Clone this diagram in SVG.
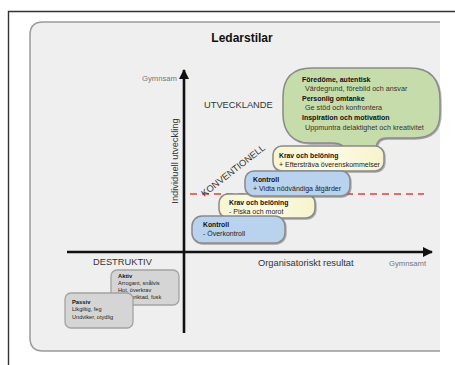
<svg xmlns="http://www.w3.org/2000/svg" width="455" height="365" viewBox="0 0 455 365">
<style>
text{font-family:"Liberation Sans",Arial,sans-serif;}
.t{font-size:7px;fill:#222;}
.tb{font-size:6.8px;font-weight:bold;fill:#111;}
.g{font-size:7.2px;fill:#333;}
.gb{font-size:7px;font-weight:bold;fill:#111;}
.s{font-size:5.6px;fill:#222;}
.sb{font-size:5.8px;font-weight:bold;fill:#111;}
.lab{font-size:9.3px;fill:#333;}
.gy{font-size:7.7px;fill:#777;}
.box{stroke:#8a8a8a;stroke-width:1.5;filter:url(#sh);}
.yel{fill:url(#yg);}
.blu{fill:#b9d2ee;}
.gra{fill:#d5d5d5;stroke:#a3a3a3;stroke-width:1.3;}
.axis{stroke:#111;stroke-width:2.6;fill:none;}
</style>
<defs>
<filter id="sh" x="-10%" y="-10%" width="120%" height="130%">
<feDropShadow dx="0.8" dy="1" stdDeviation="0.7" flood-color="#555" flood-opacity="0.5"/>
</filter>
<linearGradient id="yg" x1="0" y1="0" x2="1" y2="0">
<stop offset="0" stop-color="#f8f5cf"/>
<stop offset="0.5" stop-color="#fcfbe6"/>
<stop offset="1" stop-color="#f6f3cc"/>
</linearGradient>
<marker id="ah" markerUnits="userSpaceOnUse" markerWidth="12" markerHeight="12" refX="9" refY="5" orient="auto">
<path d="M0,0 L10,5 L0,10 Z" fill="#111"/>
</marker>
</defs>
<rect width="455" height="365" fill="#ffffff"/>
<path d="M8.5,365 V11.5 H455" fill="none" stroke="#333" stroke-width="1.4"/>
<path d="M440,22 H43 Q30,22 30,35 V338 Q30,351 43,351 H440 Z" fill="#efefef"/>
<path d="M440,22 H43 Q30,22 30,35 V338 Q30,351 43,351 H440" fill="none" stroke="#9a9a9a" stroke-width="1.5"/>

<text x="242" y="42" text-anchor="middle" style="font-size:12px;font-weight:bold;fill:#111">Ledarstilar</text>

<g id="connectors">
<line class="axis" x1="184" y1="333" x2="184" y2="70" marker-end="url(#ah)"/>
<line class="axis" x1="67" y1="252" x2="432" y2="252" marker-end="url(#ah)"/>
<line x1="190" y1="194" x2="424" y2="194" stroke="#e8403c" stroke-width="1.6" stroke-dasharray="7,5"/>
</g>

<g id="axis-labels">
<text class="gy" x="142" y="80.5">Gymnsam</text>
<text class="gy" x="389" y="265.5">Gymnsamt</text>
<text class="lab" x="258" y="266">Organisatoriskt resultat</text>
<text class="lab" transform="translate(178,161) rotate(-90)" text-anchor="middle">Individuell utveckling</text>
<text class="lab" x="204" y="107.5">UTVECKLANDE</text>
<text class="lab" x="93" y="265">DESTRUKTIV</text>
</g>

<g id="node-utvecklande">
<path class="box" fill="#c6dcab" d="M312,68 H410 C431,68 440,80 440,100 V113 C440,130 432,138 414,138 L387,138 C379,138 376,142 376,150 L344,150 C344,146 341,143 333,143 L310,143 C292,143 283,131 283,114 V97 C283,78 293,68 312,68 Z"/>
<text class="gb" x="302" y="81.5">Föredöme, autentisk</text>
<text class="g" x="305" y="90.5">Värdegrund, förebild och ansvar</text>
<text class="gb" x="302" y="100.5">Personlig omtanke</text>
<text class="g" x="305" y="109.5">Ge stöd och konfrontera</text>
<text class="gb" x="302" y="119.5">Inspiration och motivation</text>
<text class="g" x="305" y="129.5">Uppmuntra delaktighet och kreativitet</text>
</g>

<g id="node-krav-2">
<rect class="box yel" x="273" y="146" width="111" height="25" rx="9"/>
<text class="tb" x="279" y="158">Krav och belöning</text>
<text class="t" x="279" y="167">+ Eftersträva överenskommelser</text>
</g>

<g id="node-krav-1">
<rect class="box yel" x="219" y="194" width="96" height="24" rx="9"/>
<text class="tb" x="229" y="204.5">Krav och belöning</text>
<text class="t" x="229" y="213.5">- Piska och morot</text>
</g>

<g id="node-kontroll-2">
<rect class="box blu" x="245" y="171" width="105" height="25" rx="9"/>
<text class="tb" x="253" y="181.5">Kontroll</text>
<text class="t" x="253" y="190.5">+ Vidta nödvändiga åtgärder</text>
</g>

<g id="node-kontroll-1">
<rect class="box blu" x="192" y="216" width="93" height="27" rx="10"/>
<text class="tb" x="203" y="226.5">Kontroll</text>
<text class="t" x="203" y="236">- Överkontroll</text>
</g>

<text class="lab" transform="translate(235,173) rotate(-38)" text-anchor="middle">KONVENTIONELL</text>

<g id="node-aktiv">
<rect class="gra" x="111" y="270" width="68" height="35" rx="6"/>
<text class="sb" x="118" y="277.5">Aktiv</text>
<text class="s" x="118" y="285">Arrogant, snålvis</text>
<text class="s" x="118" y="292">Hot, överkrav</text>
<text class="s" x="118" y="299">Ego-inriktad, fusk</text>
</g>

<g id="node-passiv">
<rect class="gra" x="65" y="293" width="68" height="35" rx="6"/>
<text class="sb" x="72" y="303.5">Passiv</text>
<text class="s" x="72" y="311">Likgiltig, feg</text>
<text class="s" x="72" y="318.5">Undviker, otydlig</text>
</g>
</svg>
